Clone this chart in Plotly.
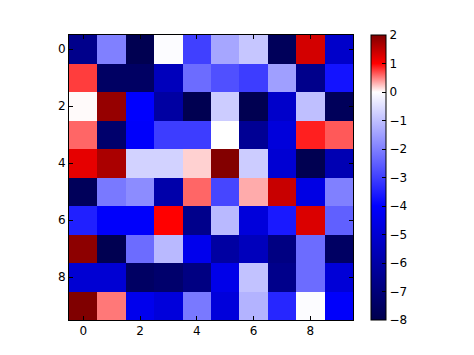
import plotly.graph_objects as go

rows = list(range(10))
cols = list(range(10))
z = [
    [-6.6, -2.0, -7.9, -0.05, -3.0, -1.4, -0.9, -7.7, 1.35, -5.2],
    [0.76, -7.5, -7.5, -5.5, -2.3, -2.75, -3.05, -1.5, -6.6, -3.7],
    [0.02, 1.83, -4.0, -6.1, -7.9, -0.8, -7.9, -5.2, -1.0, -7.7],
    [0.6, -7.3, -4.1, -3.05, -3.05, 0.0, -6.4, -4.8, 0.88, 0.65],
    [1.2, 1.67, -0.7, -0.7, 0.18, 1.98, -0.8, -5.0, -7.9, -5.7],
    [-7.7, -2.1, -1.8, -5.9, 0.6, -2.9, 0.33, 1.43, -4.6, -2.0],
    [-3.5, -4.1, -4.1, 1.0, -6.6, -1.1, -4.8, -3.6, 1.28, -2.5],
    [1.9, -7.9, -2.3, -1.1, -4.4, -6.1, -5.5, -6.8, -2.3, -7.5],
    [-5.0, -5.0, -7.5, -7.3, -6.8, -4.5, -0.95, -6.6, -2.3, -4.9],
    [2.0, 0.53, -4.4, -4.8, -2.1, -4.8, -1.2, -3.4, -0.05, -4.1],
]
zmin, zmax = -8, 2
x_ticks = [0, 2, 4, 6, 8]
y_ticks = [0, 2, 4, 6, 8]
cbar_ticks = [2, 1, 0, -1, -2, -3, -4, -5, -6, -7, -8]

# seismic colormap with center at 0
def frac(v):
    return (v - zmin) / (zmax - zmin)

colorscale = [
    [frac(-8), "rgb(0,0,77)"],
    [frac(-4), "rgb(0,0,255)"],
    [frac(0), "rgb(255,255,255)"],
    [frac(1), "rgb(255,0,0)"],
    [frac(2), "rgb(128,0,0)"],
]

fig = go.Figure(go.Heatmap(
    z=z, x=cols, y=rows, zmin=zmin, zmax=zmax, colorscale=colorscale,
    colorbar=dict(
        x=(371 - 69) / 284, xanchor="left", xref="paper",
        y=0.5, yanchor="middle", len=1.0, lenmode="fraction",
        thickness=15, outlinewidth=1, outlinecolor="black",
        tickvals=cbar_ticks, ticktext=[("\u2212" + str(-t)) if t < 0 else str(t) for t in cbar_ticks],
        ticks="inside", ticklen=4, tickcolor="black",
        tickfont=dict(family="DejaVu Sans", size=12, color="black"),
        xpad=0, ypad=0,
    ),
    hoverinfo="skip",
))

fig.update_layout(
    width=474, height=355,
    margin=dict(l=69, r=121, t=35, b=35),
    paper_bgcolor="white", plot_bgcolor="white",
    font=dict(family="DejaVu Sans", size=12, color="black"),
)
fig.update_xaxes(range=[-0.5, 9.5], tickvals=x_ticks, showline=True, linecolor="black",
                 linewidth=1, mirror="ticks", ticks="inside", ticklen=4, tickcolor="black",
                 showgrid=False, zeroline=False)
fig.update_yaxes(range=[9.5, -0.5], tickvals=y_ticks, showline=True, linecolor="black",
                 linewidth=1, mirror="ticks", ticks="inside", ticklen=4, tickcolor="black",
                 showgrid=False, zeroline=False)

fig.write_html("out.html")
